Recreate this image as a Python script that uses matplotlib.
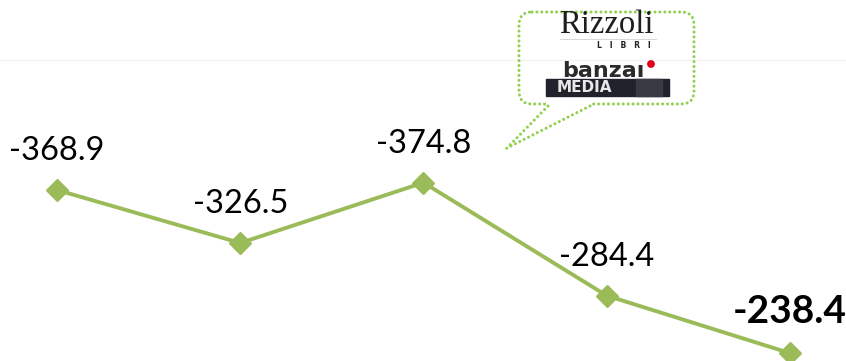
import matplotlib
matplotlib.use("Agg")
import matplotlib.pyplot as plt
from matplotlib.patches import FancyBboxPatch, Rectangle, Circle

# data
periodi = [0, 1, 2, 3, 4]
valori = [-368.9, -326.5, -374.8, -284.4, -238.4]
etichette = ["-368.9", "-326.5", "-374.8", "-284.4", "-238.4"]

verde = "#9BBB59"
verde_punti = "#92D050"

fig = plt.figure(figsize=(8.46, 3.61), dpi=100)
ax = fig.add_axes([0, 0, 1, 1])

ax.plot(periodi, valori, color=verde, lw=2.8, marker="D", ms=11.5,
        markerfacecolor=verde, markeredgecolor=verde, solid_joinstyle="round")

for i, (x, v) in enumerate(zip(periodi, valori)):
    ultimo = i == len(valori) - 1
    ax.annotate(etichette[i], (x, v), xytext=(0, 21.5), textcoords="offset points",
                ha="center", va="baseline", fontsize=28 if ultimo else 23.5,
                family="Lato", fontweight="bold" if ultimo else "normal",
                color="black")

# asse invertito: i valori piu' negativi stanno in alto
ax.set_xlim(-0.311, 4.306)
ax.set_ylim(-232.1, -520.9)
ax.axis("off")

# riga grigia chiarissima in alto
ax.plot([0, 1], [0.834, 0.834], transform=ax.transAxes, color="#f3f3f3", lw=1)

# fumetto con i loghi (coordinate in pixel)
ov = fig.add_axes([0, 0, 1, 1])
ov.set_xlim(0, 846)
ov.set_ylim(361, 0)
ov.axis("off")
ov.patch.set_alpha(0)

stile = dict(color=verde_punti, lw=2.2, linestyle=(0, (0.01, 1.6)),
             dash_capstyle="round", solid_capstyle="round")
box = FancyBboxPatch((519, 12), 175, 92, boxstyle="round,pad=0,rounding_size=13",
                     fill=False, edgecolor=verde_punti, lw=2.2,
                     linestyle=(0, (0.01, 1.6)), capstyle="round")
ov.add_patch(box)
ov.plot([550, 588], [104, 104], color="white", lw=4)
ov.plot([548, 505], [106, 150], **stile)
ov.plot([590, 509], [106, 147], **stile)

ov.text(606, 25, "Rizzoli", ha="center", va="center", fontsize=23.5,
        family="Liberation Serif", color="#1e1e1e")
ov.plot([560, 656], [39, 39], color="#d0d0d0", lw=0.6)
ov.text(624, 46, "L   I   B   R   I", ha="center", va="center", fontsize=5.5,
        family="DejaVu Sans", fontweight="bold", color="#222222")

ov.text(603, 71, "banza\u0131", ha="center", va="center", fontsize=16,
        family="DejaVu Sans", fontweight="bold", color="#2b2b2b")
ov.add_patch(Circle((651, 64), 3.2, color="#e3001b"))
ov.add_patch(Rectangle((546, 79), 123, 17, color="#22222c"))
ov.add_patch(Rectangle((636, 79), 26, 17, color="#3a3a44"))
ov.text(557, 87.5, "MEDIA", ha="left", va="center", fontsize=11,
        family="DejaVu Sans", fontweight="bold", color="#e8e8e8")

fig.savefig("out.png", dpi=100)
